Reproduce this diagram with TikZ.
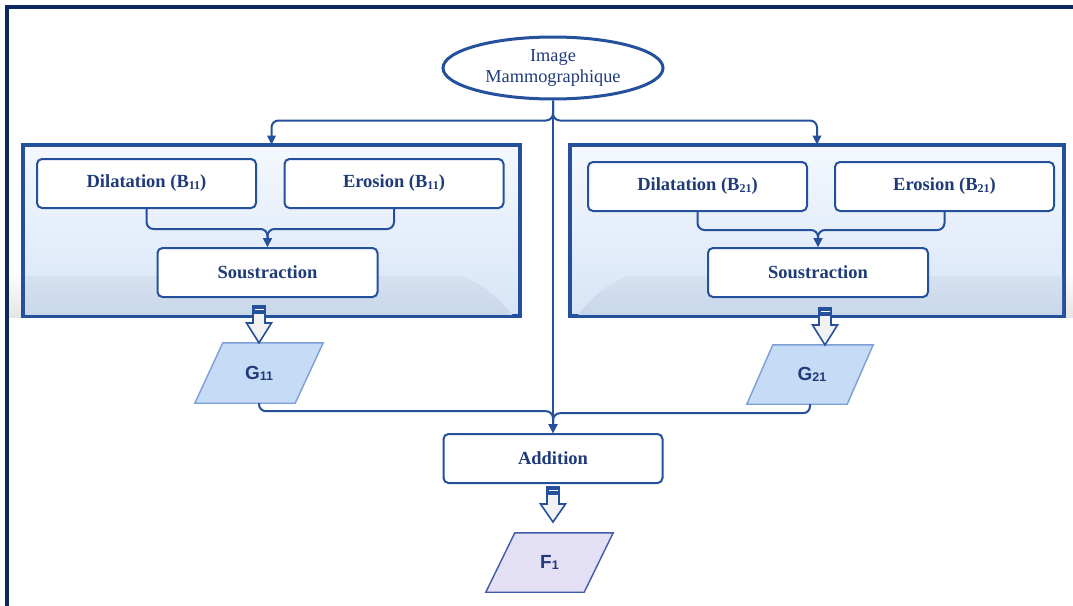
\documentclass[tikz,border=0pt]{standalone}
\usepackage{fontspec}
\setmainfont{Liberation Serif}
\newfontfamily\gsans{Liberation Sans}
\usetikzlibrary{shapes.geometric,arrows.meta,calc}
\definecolor{boxblue}{HTML}{24509C}
\definecolor{framecol}{HTML}{0C2860}
\definecolor{txtblue}{HTML}{1F3B7A}
\definecolor{gfill}{HTML}{C6DBF5}
\definecolor{gline}{HTML}{7B9FD6}
\definecolor{ffill}{HTML}{E3DFF5}
\definecolor{fline}{HTML}{3F5AA6}
\definecolor{arrfill}{HTML}{F2F2F2}
\definecolor{grptop}{HTML}{F4F8FE}
\definecolor{grpbot}{HTML}{D8E5F6}
\definecolor{bandtop}{HTML}{D6E1F0}
\definecolor{bandbot}{HTML}{C7D6EA}
\newcommand\subtxt[1]{\raisebox{-2pt}{\fontsize{12}{12}\selectfont #1}}
\newcommand\gsub[1]{\raisebox{-1pt}{\fontsize{12.5}{12.5}\selectfont #1}}
\newcommand\blockarr[2]{%
  \draw[barrow] let \p1=(#1), \p2=(#2) in
    (\x1-6pt,\y1-8pt) -- (\x1+6pt,\y1-8pt) -- (\x1+6pt,\y1-18pt) -- (\x1+12.5pt,\y1-18pt)
    -- (\x1,\y2) -- (\x1-12.5pt,\y1-18pt) -- (\x1-6pt,\y1-18pt) -- cycle;
  \fill[boxblue] let \p1=(#1) in (\x1-6.8pt,\y1) rectangle (\x1+6.8pt,\y1-8.5pt);
  \draw[white, line width=1pt] let \p1=(#1) in (\x1-4.5pt,\y1-4pt) -- (\x1+4.5pt,\y1-4pt);
}
\tikzset{
  grpbox/.style={draw=boxblue, line width=2.8pt, minimum width=#1, minimum height=169pt, inner sep=0pt,
    top color=grptop, bottom color=grpbot},
  stepbox/.style={draw=boxblue, line width=2pt, fill=white, rounded corners=5pt,
    minimum width=219pt, minimum height=49pt, inner sep=0pt, text=txtblue,
    font=\fontsize{18.5}{21}\selectfont\bfseries},
  conn/.style={draw=boxblue, line width=2pt, rounded corners=7pt, -{Triangle[length=9pt,width=8.5pt]}},
  barrow/.style={draw=boxblue, fill=arrfill, line width=1.6pt, line join=miter},
  gnode/.style={minimum width=100pt, minimum height=60pt, inner sep=0pt, text=txtblue,
    font=\gsans\fontsize{19}{20}\selectfont\bfseries},
  gshape/.style={fill=gfill, draw=gline, line width=1.4pt},
  fshape/.style={fill=ffill, draw=fline, line width=1.4pt},
}
\begin{document}
\begin{tikzpicture}[x=1pt,y=-1pt]
\useasboundingbox (0,0) rectangle (1073,605);
\fill[white] (0,0) rectangle (1073,605);
% outer frame
\draw[framecol, line width=3.2pt] (7,640) -- (7,7) -- (1100,7);
% faint floor bands outside the group boxes
\fill[top color=white, bottom color=black!10] (9,270) rectangle (24,317);
\fill[top color=white, bottom color=black!10] (1063,270) rectangle (1073,317);
% group boxes
\node[grpbox=495pt] (grp1) at (271.5,230.5) {};
\node[grpbox=492pt] (grp2) at (817,230.5) {};
\begin{scope}
  \clip (25,147) rectangle (518,314);
  \shade[top color=bandtop, bottom color=bandbot] (0,276) -- (458,276) .. controls (480,280) and (500,300) .. (515,318) -- (0,318) -- cycle;
\end{scope}
\begin{scope}
  \clip (572,147) rectangle (1062,314);
  \shade[top color=bandtop, bottom color=bandbot] (1080,276) -- (628,276) .. controls (610,282) and (590,298) .. (576,318) -- (1080,318) -- cycle;
\end{scope}
\draw[boxblue, line width=2.8pt] (grp1.south west) rectangle (grp1.north east);
\draw[boxblue, line width=2.8pt] (grp2.south west) rectangle (grp2.north east);
% ellipse
\node[ellipse, draw=boxblue, line width=3pt, fill=white, minimum width=220pt, minimum height=62pt,
  inner sep=0pt, align=center, text=txtblue, font=\fontsize{18.3}{21.5}\selectfont] (ell) at (553,68)
  {Image\\Mammographique};
% inner steps
\node[stepbox] (dil1) at (146.5,183.5) {Dilatation (B\subtxt{11})};
\node[stepbox] (ero1) at (394,183.5) {Erosion (B\subtxt{11})};
\node[stepbox, minimum width=220pt] (sous1) at (267.5,272.5) {Soustraction};
\node[stepbox] (dil2) at (697.5,186.5) {Dilatation (B\subtxt{21})};
\node[stepbox] (ero2) at (944.5,186.5) {Erosion (B\subtxt{21})};
\node[stepbox, minimum width=220pt] (sous2) at (818,272.5) {Soustraction};
\node[stepbox] (add) at (553,458.5) {Addition};
% parallelograms
\node[gnode] (g11) at (259,373) {};
\draw[gshape] ([xshift=-14pt]g11.south west) -- ([xshift=-14pt]g11.south east) -- ([xshift=14pt]g11.north east) -- ([xshift=14pt]g11.north west) -- cycle;
\node[gnode] at (g11) {G\gsub{11}};
\node[gnode, minimum height=59pt] (g21) at (810,374.5) {};
\draw[gshape] ([xshift=-13pt]g21.south west) -- ([xshift=-13pt]g21.south east) -- ([xshift=13pt]g21.north east) -- ([xshift=13pt]g21.north west) -- cycle;
\node[gnode] at ([xshift=2pt]g21) {G\gsub{21}};
\node[gnode, minimum width=98pt, minimum height=59pt] (f1) at (549.5,562.5) {};
\draw[fshape] ([xshift=-14.5pt]f1.south west) -- ([xshift=-14.5pt]f1.south east) -- ([xshift=14.5pt]f1.north east) -- ([xshift=14.5pt]f1.north west) -- cycle;
\node[gnode] at (f1) {F\gsub{1}};
% connectors
\draw[conn] (ell.south) -- (add.north);
\draw[conn] (ell.south) -- ++(0,20) -| (grp1.north);
\draw[conn] (ell.south) -- ++(0,20) -| (grp2.north);
\draw[conn] (dil1.south) -- ++(0,20) -| (sous1.north);
\draw[conn] (ero1.south) -- ++(0,20) -| (sous1.north);
\draw[conn] (dil2.south) -- ++(0,18) -| (sous2.north);
\draw[conn] (ero2.south) -- ++(0,18) -| (sous2.north);
\draw[conn] (g11.south) -- ++(0,8) -| (add.north);
\draw[conn] (g21.south) -- ++(0,9) -| (add.north);
% block arrows
\coordinate (s1) at (259,305);
\coordinate (s2) at (825,307);
\coordinate (s3) at (553,486);
\coordinate (t2) at (825,345);
\coordinate (t3) at (553,522);
\blockarr{s1}{g11.north}
\blockarr{s2}{t2}
\blockarr{s3}{t3}
\end{tikzpicture}
\end{document}
